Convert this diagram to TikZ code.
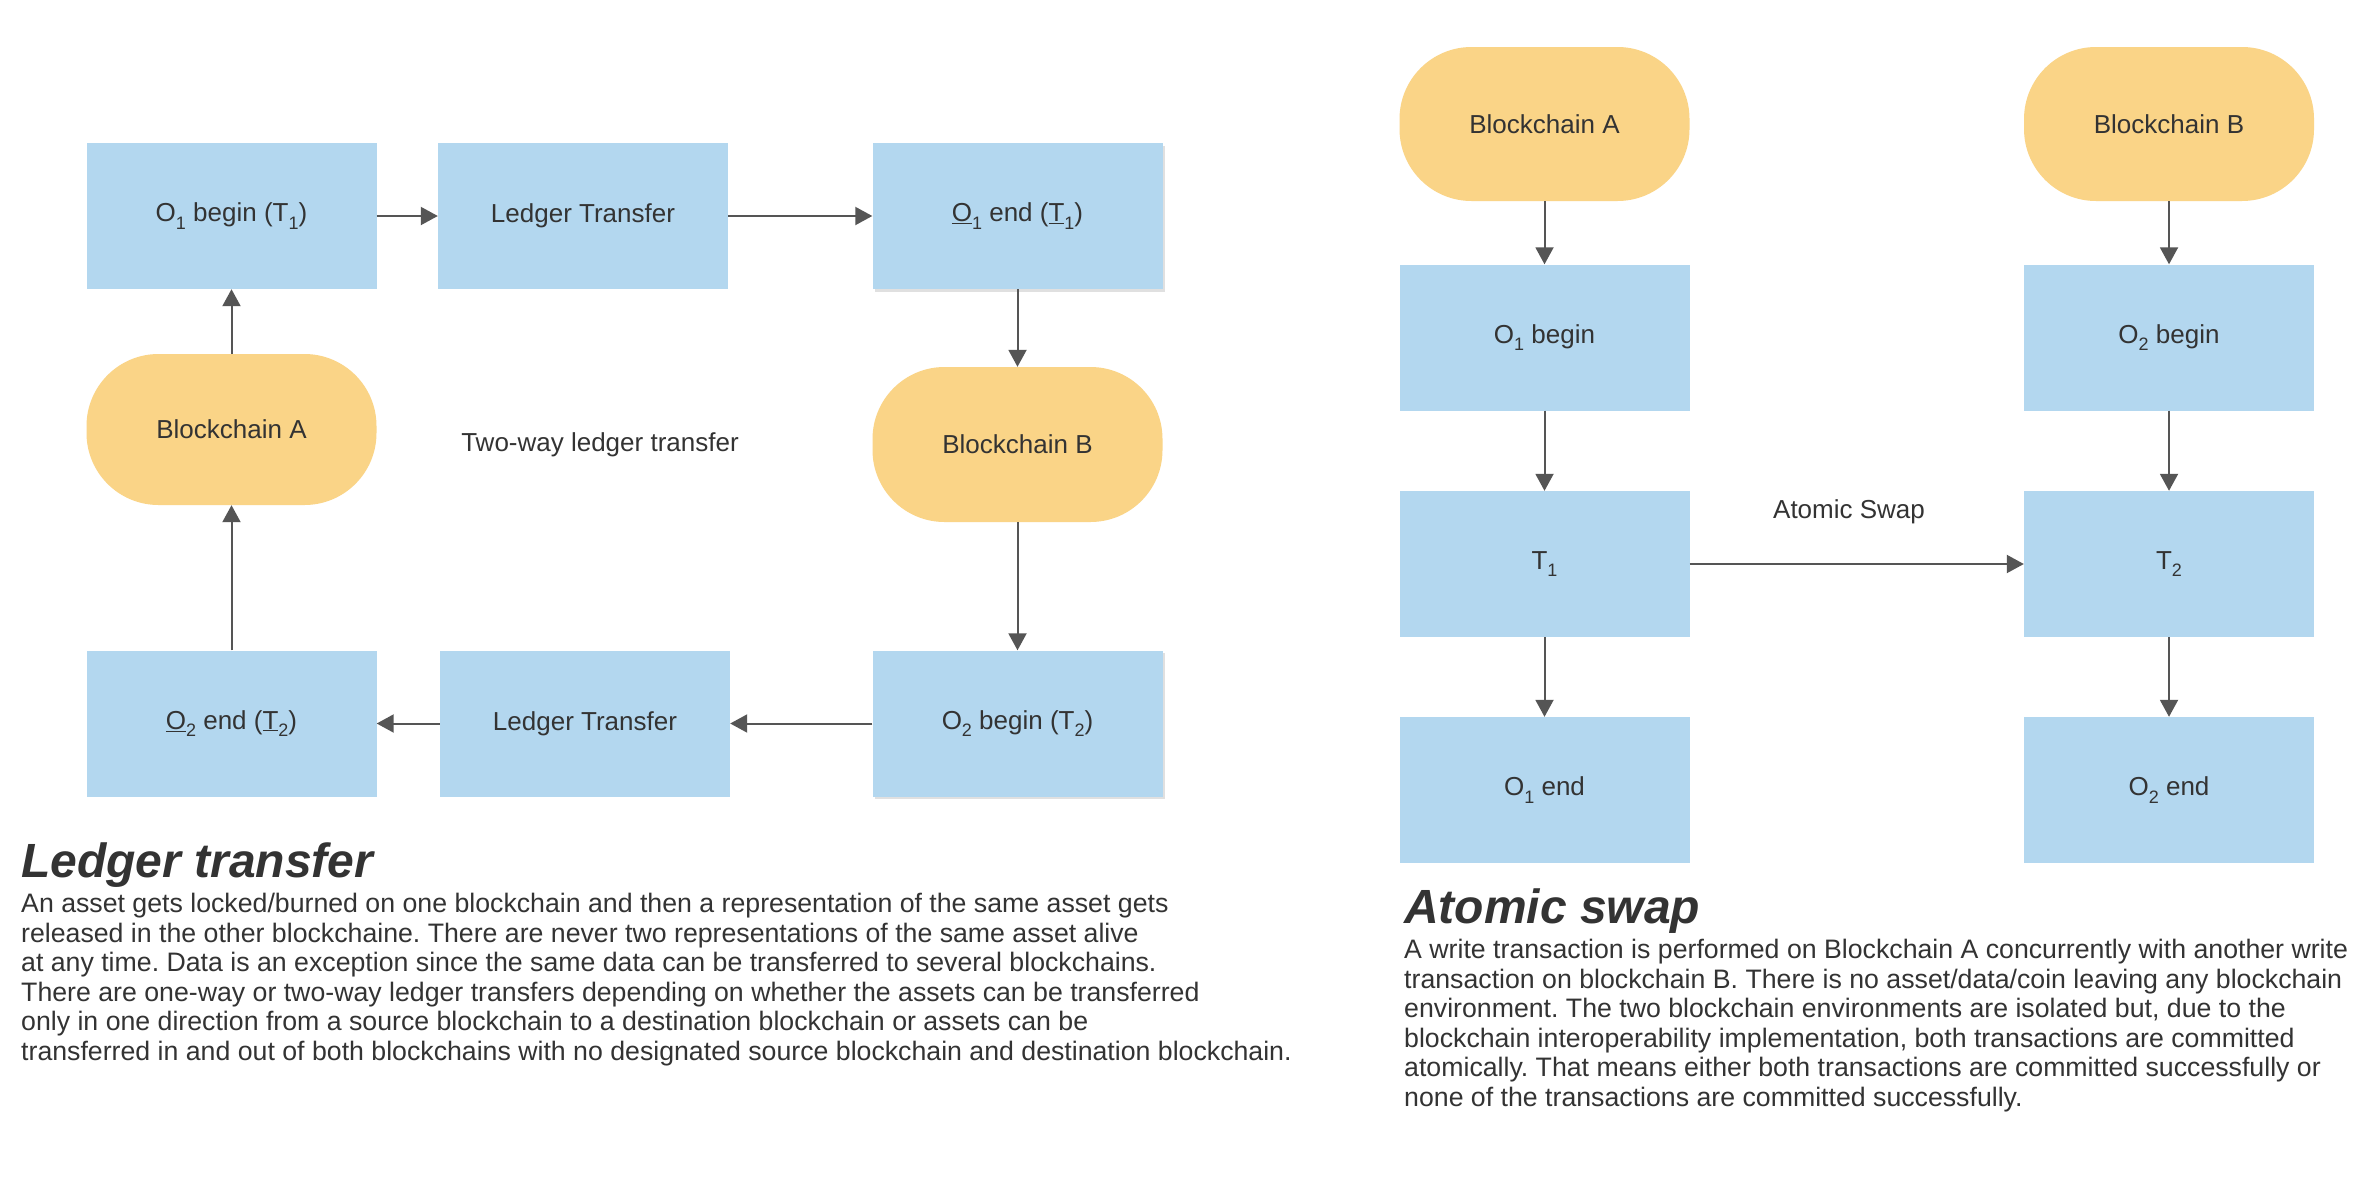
\documentclass[tikz,border=0pt]{standalone}
\usepackage{fontspec}
\setmainfont{Liberation Sans}
\usetikzlibrary{arrows.meta,shadows}
\definecolor{boxblue}{HTML}{B3D7EF}
\definecolor{pillyellow}{HTML}{FAD487}
\definecolor{txtgray}{HTML}{333333}
\definecolor{arrgray}{HTML}{555555}
\newcommand\sbs[1]{\raisebox{-0.28em}{\fontsize{18}{18}\selectfont #1}}
\frenchspacing
\begin{document}
\begin{tikzpicture}[x=1pt,y=-1pt,
  box/.style={rectangle, fill=boxblue, minimum width=290pt, minimum height=146pt, inner sep=0pt, text=txtgray, font=\fontsize{26}{30}\selectfont},
  shbox/.style={box, drop shadow={shadow xshift=2.5pt, shadow yshift=-2.5pt, opacity=0.12, fill=black}},
  pill/.style={rectangle, rounded corners=72pt, fill=pillyellow, minimum width=290pt, minimum height=152pt, inner sep=0pt, text=txtgray, font=\fontsize{26}{30}\selectfont},
  conn/.style={draw=arrgray, line width=2pt, -{Triangle[length=17pt,width=18pt]}},
  lbl/.style={text=txtgray, inner sep=0pt, font=\fontsize{26}{30}\selectfont},
  ttl/.style={text=txtgray, anchor=base west, inner sep=0pt, font=\fontsize{48}{56}\selectfont\bfseries\itshape},
  body/.style={text=txtgray, align=left, anchor=north west, inner sep=0pt, font=\fontsize{26.7}{29.6}\selectfont\frenchspacing}
]
\useasboundingbox[fill=white] (0,0) rectangle (2371,1183);

% ---- Ledger transfer ----
\node[box] (lb1) at (231.5,216) {O\sbs{1} begin (T\sbs{1})};
\node[box] (lb2) at (583,216) {Ledger Transfer};
\node[shbox] (lb3) at (1017.5,216) {\underline{O}\sbs{1} end (\underline{T}\sbs{1})};
\node[pill, minimum height=151pt] (lA) at (231.5,429.5) {Blockchain A};
\node[pill, minimum height=155pt] (lB) at (1017.5,444.5) {Blockchain B};
\node[lbl] (twoway) at (600,445) {Two-way ledger transfer};
\node[box] (lb4) at (231.5,723.5) {\underline{O}\sbs{2} end (\underline{T}\sbs{2})};
\node[box] (lb5) at (585,723.5) {Ledger Transfer};
\node[shbox] (lb6) at (1017.5,723.5) {O\sbs{2} begin (T\sbs{2})};

\draw[conn] (lb1) -- (lb2);
\draw[conn] (lb2) -- (lb3);
\draw[conn] (lb3) -- (lB);
\draw[conn] (lB) -- (lb6);
\draw[conn] (lb6) -- (lb5);
\draw[conn] (lb5) -- (lb4);
\draw[conn] (lb4) -- (lA);
\draw[conn] (lA) -- (lb1);

\node[ttl] (ttlL) at (21,877) {Ledger transfer};
\node[body] (txtL) at (21,893) {An asset gets locked/burned on one blockchain and then a representation of the same asset gets\\
released in the other blockchaine. There are never two representations of the same asset alive\\
at any time. Data is an exception since the same data can be transferred to several blockchains.\\
There are one-way or two-way ledger transfers depending on whether the assets can be transferred\\
only in one direction from a source blockchain to a destination blockchain or assets can be\\
transferred in and out of both blockchains with no designated source blockchain and destination blockchain.};

% ---- Atomic swap ----
\node[pill, minimum height=154pt] (rA) at (1544.5,124) {Blockchain A};
\node[pill, minimum height=154pt] (rB) at (2169,124) {Blockchain B};
\node[box] (r1) at (1544.5,337.5) {O\sbs{1} begin};
\node[box] (r2) at (2169,337.5) {O\sbs{2} begin};
\node[box] (r3) at (1544.5,564) {T\sbs{1}};
\node[box] (r4) at (2169,564) {T\sbs{2}};
\node[box] (r5) at (1544.5,790) {O\sbs{1} end};
\node[box] (r6) at (2169,790) {O\sbs{2} end};
\node[lbl] (swap) at (1849,512) {Atomic Swap};

\draw[conn] (rA) -- (r1);
\draw[conn] (r1) -- (r3);
\draw[conn] (r3) -- (r5);
\draw[conn] (rB) -- (r2);
\draw[conn] (r2) -- (r4);
\draw[conn] (r4) -- (r6);
\draw[conn] (r3) -- (r4);

\node[ttl] (ttlR) at (1404,923) {Atomic swap};
\node[body] (txtR) at (1404,939) {A write transaction is performed on Blockchain A concurrently with another write\\
transaction on blockchain B. There is no asset/data/coin leaving any blockchain\\
environment. The two blockchain environments are isolated but, due to the\\
blockchain interoperability implementation, both transactions are committed\\
atomically. That means either both transactions are committed successfully or\\
none of the transactions are committed successfully.};
\end{tikzpicture}
\end{document}
